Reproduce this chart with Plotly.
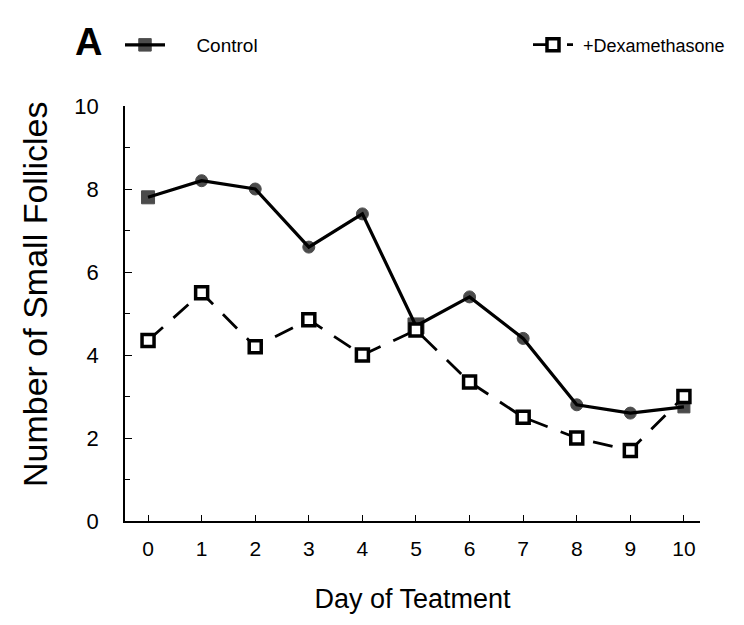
import plotly.graph_objects as go

days = [0, 1, 2, 3, 4, 5, 6, 7, 8, 9, 10]
control = [7.8, 8.2, 8.0, 6.6, 7.4, 4.7, 5.4, 4.4, 2.8, 2.6, 2.75]
dexamethasone = [4.35, 5.5, 4.2, 4.85, 4.0, 4.6, 3.35, 2.5, 2.0, 1.7, 3.0]
x_ticks = list(range(0, 11))
y_ticks = [0, 2, 4, 6, 8, 10]

FONT = "Liberation Sans"
OFF = 8  # page body margin
W, H = 744 - 2 * OFF, 625 - 2 * OFF
ML = 125 - OFF
MT = 106 - OFF
MR = W - (700 - OFF)
MB = H - (521 - OFF)
PW, PH = W - ML - MR, H - MT - MB


def px_x(px):
    return (px - OFF - ML) / PW


def px_y(py):
    return (H - MB - (py - OFF)) / PH


fig = go.Figure()
fig.add_trace(go.Scatter(
    x=days, y=control, name="\u00a0\u00a0\u00a0\u00a0\u00a0Control", mode="lines+markers",
    line=dict(color="black", width=3.2),
    marker=dict(symbol=["square", "circle", "circle", "circle", "circle", "square",
                        "circle", "circle", "circle", "circle", "square"],
                size=[13, 12, 12, 12, 12, 16, 12, 12, 12, 12, 12], color="black",
                line=dict(color="black", width=1)),
    legend="legend",
))
fig.add_trace(go.Scatter(
    x=days, y=dexamethasone, name="\u00a0+Dexamethasone", mode="lines+markers",
    line=dict(color="black", width=2.8, dash="20px,14px"),
    marker=dict(symbol="square", size=12, color="white",
                line=dict(color="black", width=3.5)),
    legend="legend2",
))

leg_common = dict(orientation="h", xanchor="left", yanchor="middle",
                  bgcolor="rgba(0,0,0,0)", itemwidth=40)

fig.update_layout(
    width=W, height=H,
    margin=dict(l=ML, r=MR, t=MT, b=MB, autoexpand=False),
    paper_bgcolor="white", plot_bgcolor="white",
    font=dict(family=FONT, color="black", size=16),
    showlegend=True,
    legend=dict(x=px_x(120), y=px_y(45), font=dict(size=19, family=FONT), **leg_common),
    legend2=dict(x=px_x(528), y=px_y(45), font=dict(size=18, family=FONT), **leg_common),
    xaxis=dict(range=[-0.43, 10.3], tickmode="array", tickvals=x_ticks,
               showline=True, linecolor="black", linewidth=1.5,
               ticks="inside", ticklen=6, tickwidth=1.2, tickcolor="black",
               showgrid=False, zeroline=False,
               tickfont=dict(size=21), ticklabelstandoff=8,
               title=dict(text="Day of Teatment", font=dict(size=27), standoff=30)),
    yaxis=dict(range=[0, 10], tickmode="array", tickvals=y_ticks,
               showline=True, linecolor="black", linewidth=1.5,
               ticks="inside", ticklen=7, tickwidth=1.2, tickcolor="black",
               minor=dict(ticks="inside", ticklen=5, tickwidth=1.2, tickcolor="black", dtick=1),
               showgrid=False, zeroline=False,
               tickfont=dict(size=22), ticklabelstandoff=20),
    annotations=[
        dict(text="<b>A</b>", x=px_x(88), y=px_y(42), xref="paper", yref="paper",
             xanchor="center", yanchor="middle",
             showarrow=False, font=dict(size=38, family=FONT)),
        dict(text="Number of Small Follicles", x=px_x(35), y=px_y(295),
             xref="paper", yref="paper", xanchor="center", yanchor="middle",
             textangle=-90, showarrow=False, font=dict(size=34, family=FONT)),
    ],
)

fig.write_html("out.html")
